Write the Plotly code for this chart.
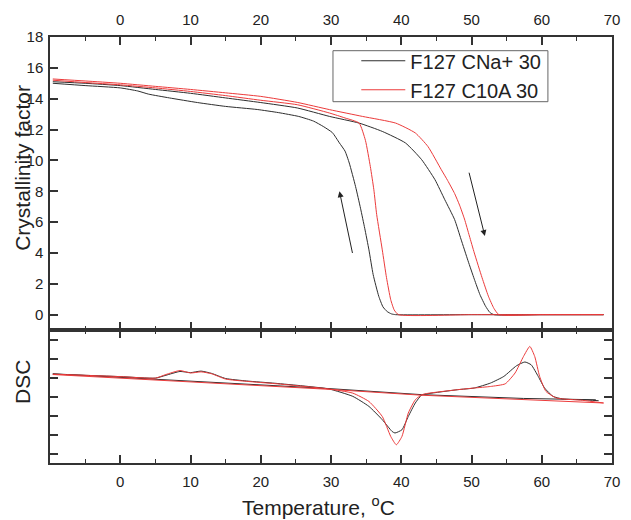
import plotly.graph_objects as go

# ---------------- data ----------------
# Crystallinity factor, F127 CNa+ 30 (black)
cna_cool_T = [-9.6, -5, 0, 2.5, 4, 7, 11, 15, 19.5, 22.5, 25.4, 27.5, 28.9, 30.2, 31.2, 32.0, 32.6,
              33.5, 34.2, 34.8, 35.4, 36.0, 36.8, 37.4, 38.0, 38.6, 39.2, 50, 60, 68.8]
cna_cool_Y = [15.0, 14.85, 14.7, 14.5, 14.3, 14.05, 13.75, 13.5, 13.3, 13.1, 12.85, 12.55, 12.2, 11.8,
              11.13, 10.6, 9.83, 8.3, 6.9, 5.6, 4.2, 2.6, 1.19, 0.5, 0.2, 0.05, 0.0, 0.0, 0.0, 0.0]
cna_heat_T = [-9.6, -5, 0, 5, 10, 15, 20, 25.2, 29.8, 34.0, 37.3, 40.6, 42.9, 44.8, 46.2, 47.6,
              48.5, 49.5, 50.4, 51.2, 52.0, 52.6, 53.2, 60, 68.8]
cna_heat_Y = [15.1, 15.0, 14.85, 14.6, 14.35, 14.05, 13.75, 13.4, 12.85, 12.42, 11.88, 11.13, 10.05,
              8.75, 7.45, 6.16, 4.9, 3.5, 2.3, 1.3, 0.55, 0.15, 0.0, 0.0, 0.0]
# Crystallinity factor, F127 C10A 30 (red)
c10a_cool_T = [-9.6, -5, 0, 5, 10, 15, 20, 25.2, 29.8, 32.0, 34.0, 34.9, 35.6, 36.1, 36.5, 37.3,
               37.9, 38.5, 39.0, 39.6, 50, 60, 68.8]
c10a_cool_Y = [15.2, 15.05, 14.9, 14.7, 14.47, 14.2, 13.9, 13.61, 13.07, 12.75, 12.42, 11.3, 9.6,
               8.1, 6.5, 4.2, 2.4, 0.97, 0.3, 0.0, 0.0, 0.0, 0.0]
c10a_heat_T = [-9.6, -5, 0, 5, 10, 15, 20, 25.2, 29.8, 34.5, 39.2, 42.0, 43.8, 45.7, 46.6, 47.6,
               48.3, 49.0, 49.7, 50.4, 51.5, 52.4, 53.2, 53.9, 60, 68.8]
c10a_heat_Y = [15.28, 15.15, 15.0, 14.8, 14.6, 14.38, 14.15, 13.76, 13.29, 12.85, 12.42, 11.78,
               10.9, 9.4, 8.7, 7.85, 7.1, 6.2, 5.1, 4.0, 2.4, 1.2, 0.4, 0.0, 0.0, 0.0]

# DSC (arbitrary units)
dsc_cna_T = [-9.6, 0, 5, 6.5, 8.5, 10, 11.5, 13, 15, 18, 22, 26, 29.7, 33.1, 35.4, 37.3, 38.7, 39.1,
             40.1, 41.0, 42.0, 42.9, 43.8, 48.0, 50.4, 52.7, 54.6, 56.4, 57.6, 58.5, 59.5, 60.4,
             61.6, 63.0, 65.8, 68.1]
dsc_cna_V = [4.68, 4.55, 4.47, 4.62, 4.82, 4.76, 4.84, 4.72, 4.45, 4.32, 4.2, 4.06, 3.9, 3.51, 2.98,
             2.28, 1.66, 1.58, 1.75, 2.45, 3.16, 3.58, 3.65, 3.86, 3.95, 4.21, 4.56, 5.12, 5.32, 5.17,
             4.56, 3.95, 3.51, 3.37, 3.33, 3.28]
dsc_c10a_T = [-9.6, 0, 5, 6.5, 8.5, 10, 11.5, 13, 15, 18, 22, 26, 29.7, 33.1, 35.4, 37.3, 38.5,
              39.3, 40.1, 41.0, 42.0, 42.9, 43.8, 48.0, 50.4, 52.7, 54.8, 56.2, 57.4, 58.3, 59.0,
              59.7, 60.6, 62.1, 65.8, 68.8]
dsc_c10a_V = [4.68, 4.55, 4.47, 4.66, 4.87, 4.74, 4.8, 4.7, 4.42, 4.3, 4.18, 4.04, 3.9, 3.68, 3.24,
              2.45, 1.4, 0.96, 1.4, 2.63, 3.33, 3.59, 3.67, 3.86, 3.95, 4.03, 4.17, 4.74, 5.61, 6.14,
              5.61, 4.56, 3.77, 3.42, 3.30, 3.16]
base_cna_T = [-9.6, 29.7, 42.9, 57.4, 67.7]
base_cna_V = [4.70, 3.92, 3.60, 3.40, 3.33]
base_c10a_T = [-9.6, 29.7, 42.9, 57.4, 68.8]
base_c10a_V = [4.66, 3.88, 3.57, 3.36, 3.16]

x_ticks = [0, 10, 20, 30, 40, 50, 60, 70]
y_ticks = [0, 2, 4, 6, 8, 10, 12, 14, 16, 18]
dsc_ticks = [0.5, 1.5, 2.5, 3.5, 4.5, 5.5, 6.5]
names = ["F127 CNa+ 30", "F127 C10A 30"]

BLACK = "#2e2e2e"
RED = "#ec3b3b"
FONT = "Liberation Sans, Arial, sans-serif"

fig = go.Figure()

def add(x, y, color, name, show, xa, ya, smooth=True):
    line = dict(color=color, width=1)
    if smooth:
        line.update(shape="spline", smoothing=0.5)
    fig.add_trace(go.Scatter(x=x, y=y, mode="lines", name=name, legendgroup=name,
                             showlegend=show, line=line, xaxis=xa, yaxis=ya))

add(cna_cool_T, cna_cool_Y, BLACK, names[0], True, "x", "y")
add(cna_heat_T, cna_heat_Y, BLACK, names[0], False, "x", "y")
add(c10a_cool_T, c10a_cool_Y, RED, names[1], True, "x", "y")
add(c10a_heat_T, c10a_heat_Y, RED, names[1], False, "x", "y")

add(base_cna_T, base_cna_V, BLACK, names[0], False, "x2", "y2", smooth=False)
add(dsc_cna_T, dsc_cna_V, BLACK, names[0], False, "x2", "y2")
add(base_c10a_T, base_c10a_V, RED, names[1], False, "x2", "y2", smooth=False)
add(dsc_c10a_T, dsc_c10a_V, RED, names[1], False, "x2", "y2")

axis_common = dict(showline=True, linecolor="#333", linewidth=1.5, ticks="inside",
                   tickcolor="#333", tickwidth=1.5, showgrid=False, zeroline=False,
                   tickfont=dict(family=FONT, size=15, color="#222"))

fig.update_layout(
    width=631, height=520,
    margin=dict(l=50, r=11, t=37, b=57),
    paper_bgcolor="white", plot_bgcolor="white",
    showlegend=True,
    legend=dict(x=0.545, y=0.99, xanchor="left", yanchor="top",
                borderwidth=0, bgcolor="rgba(0,0,0,0)",
                font=dict(family=FONT, size=20, color="#222"),
                itemwidth=44, tracegroupgap=0),
    shapes=[dict(type="rect", xref="paper", yref="paper",
                 x0=(337 - 50) / 570, x1=(555 - 50) / 570,
                 y0=(463 - 101.7) / 426, y1=(463 - 50.7) / 426,
                 line=dict(color="#666", width=1), fillcolor="white", layer="below")],
    xaxis=dict(axis_common, range=[-10, 70], tickvals=x_ticks, side="top", anchor="y",
               mirror="ticks", ticklen=8, ticklabelstandoff=4,
               minor=dict(ticks="inside", dtick=5, ticklen=4, tickcolor="#333", tickwidth=1)),
    yaxis=dict(axis_common, range=[-1, 18], tickvals=y_ticks, domain=[0.312, 1],
               anchor="x", mirror=True, ticklen=8, ticklabelstandoff=2),
    xaxis2=dict(axis_common, range=[-10, 70], tickvals=x_ticks, side="bottom", anchor="y2",
                mirror="ticks", ticklen=8, ticklabelstandoff=4,
                minor=dict(ticks="inside", dtick=5, ticklen=4, tickcolor="#333", tickwidth=1)),
    yaxis2=dict(axis_common, range=[0, 7], tickvals=dsc_ticks, showticklabels=False,
                domain=[0, 0.312], anchor="x2", mirror="ticks", ticklen=8),
    annotations=[
        dict(text="Crystallinity factor", xref="paper", yref="paper", x=-0.048, y=0.693,
             textangle=-90, showarrow=False, xanchor="center", yanchor="middle",
             font=dict(family=FONT, size=21, color="#222")),
        dict(text="DSC", xref="paper", yref="paper", x=-0.05, y=0.19,
             textangle=-90, showarrow=False, xanchor="center", yanchor="middle",
             font=dict(family=FONT, size=21, color="#222")),
        dict(text="Temperature, <sup>o</sup>C", xref="paper", yref="paper", x=0.477, y=-0.1,
             showarrow=False, xanchor="center", yanchor="middle",
             font=dict(family=FONT, size=21, color="#222")),
        dict(x=31.2, y=8.0, ax=33.1, ay=3.9, xref="x", yref="y", axref="x", ayref="y",
             text="", showarrow=True, arrowhead=2, arrowsize=1.2, arrowwidth=1, arrowcolor="#222"),
        dict(x=51.9, y=5.1, ax=49.6, ay=9.3, xref="x", yref="y", axref="x", ayref="y",
             text="", showarrow=True, arrowhead=2, arrowsize=1.2, arrowwidth=1, arrowcolor="#222"),
    ],
)

fig.write_html("out.html")
